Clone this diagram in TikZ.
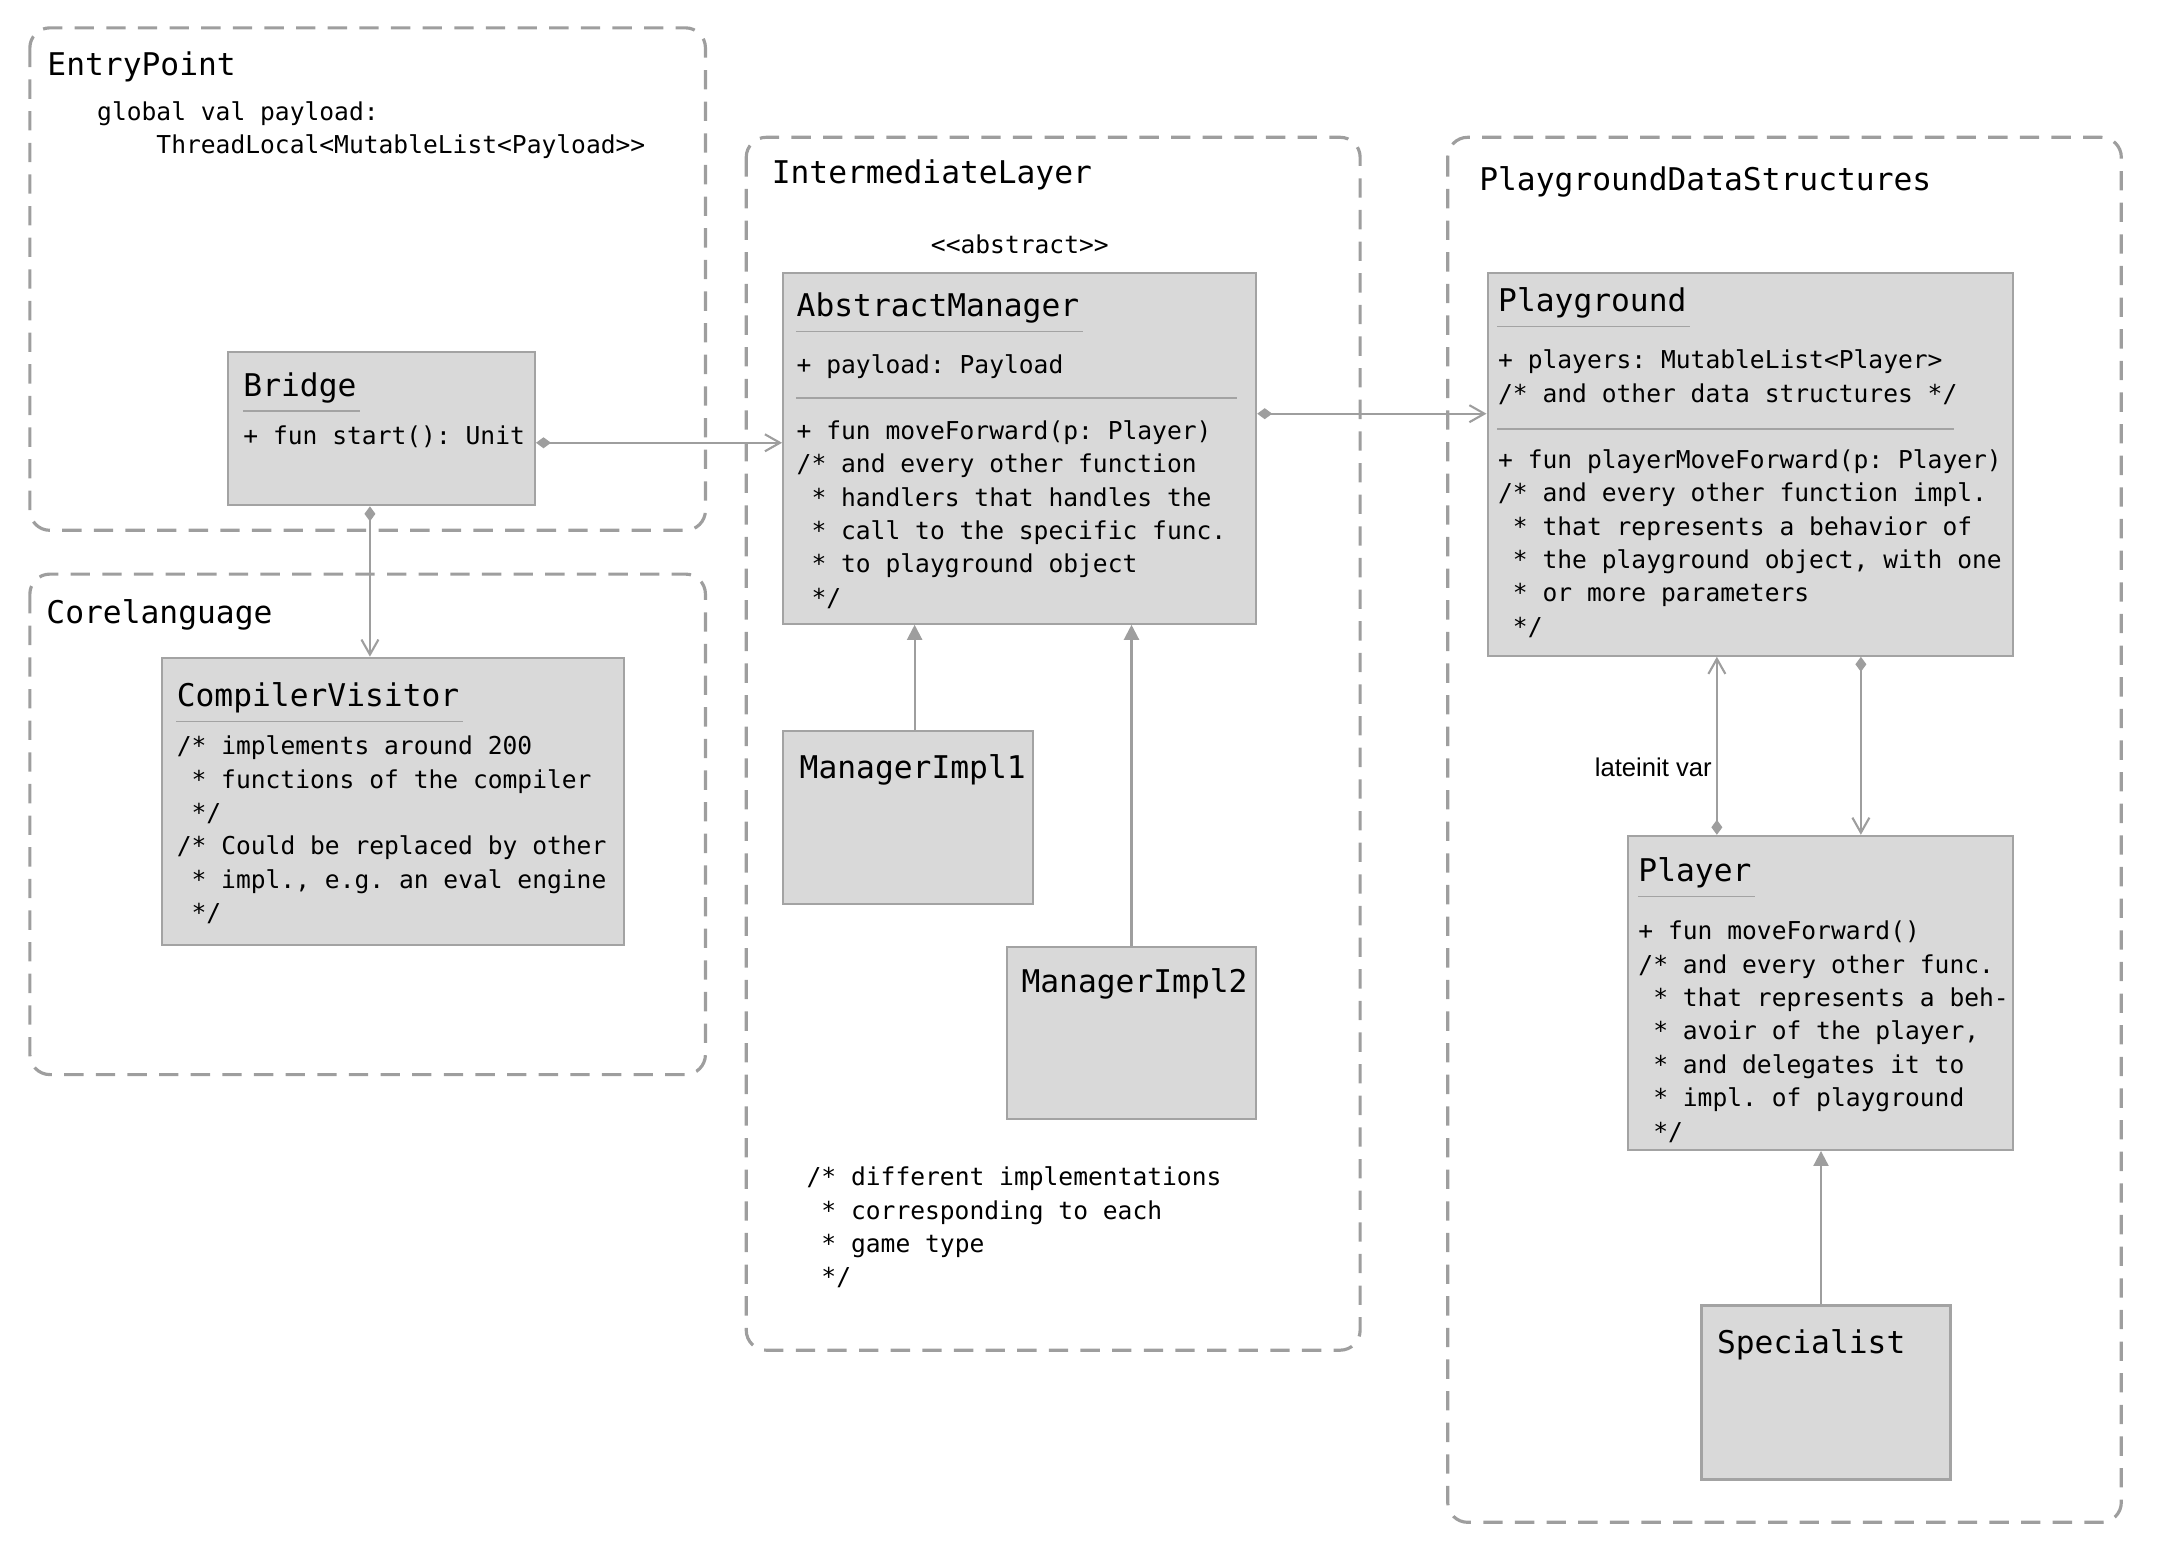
\documentclass[tikz,border=0pt]{standalone}
\usepackage{fontspec}
\setmonofont{DejaVu Sans Mono}
\newfontfamily\labelfont{Liberation Sans}
\usepackage{tikz}
\usetikzlibrary{arrows.meta, calc, positioning}
\definecolor{boxfill}{HTML}{D9D9D9}
\definecolor{boxline}{HTML}{A3A3A3}
\definecolor{frameline}{HTML}{9E9E9E}
\definecolor{linkline}{HTML}{9E9E9E}
\newcommand\pad{\hphantom{/}}
\tikzstyle{pkgframe} = [draw=frameline, line width=0.9pt, dash pattern=on 5.5pt off 3.5pt, rounded corners=2mm]
\tikzstyle{frametitle} = [anchor=base west, inner sep=0, font=\fontsize{8.9}{11}\ttfamily]
\tikzstyle{classbox} = [rectangle, draw=boxline, fill=boxfill, line width=0.6pt, inner sep=0, anchor=north west]
\tikzstyle{classname} = [anchor=base west, inner sep=0, font=\fontsize{8.9}{11}\ttfamily]
\tikzstyle{members} = [anchor=base west, inner sep=0, align=left, font=\fontsize{7}{9.5}\ttfamily, execute at begin node=\strut]
\tikzstyle{memberlist} = [members, anchor=north west]
\tikzstyle{divider} = [draw=boxline, line width=0.5pt]
\tikzstyle{comp} = [draw=linkline, line width=0.6pt, {Diamond[length=1.5mm,width=1.1mm]}-{Straight Barb[length=1.5mm,width=1.7mm]}]
\tikzstyle{inherit} = [draw=linkline, line width=0.6pt, -{Triangle[length=1.5mm,width=1.5mm]}]
\tikzstyle{linklabel} = [inner sep=0.4mm, font=\labelfont\fontsize{7.3}{9}\selectfont]
\begin{document}
\begin{tikzpicture}[x=0.00995cm, y=-0.00995cm]
		\useasboundingbox (0,0) rectangle (2170.9,1567.8);
		% packages
		\draw[pkgframe] (30,28) rectangle (709,533);
		\node[frametitle] (entryTitle) at (47,76) {EntryPoint};
		\node[memberlist] (entryNote) at (97,101) {global val payload:\\\hphantom{xxxx}ThreadLocal<MutableList<Payload>>};
		\draw[pkgframe] (30,577) rectangle (709,1080);
		\node[frametitle] (coreTitle) at (46,627) {Corelanguage};
		\draw[pkgframe] (750,138) rectangle (1367,1357);
		\node[frametitle] (layerTitle) at (775,184) {IntermediateLayer};
		\draw[pkgframe] (1455,138) rectangle (2132,1530);
		\node[frametitle] (dataTitle) at (1486,191) {PlaygroundDataStructures};
		% classes
		\node[classbox, minimum width=3.07cm, minimum height=1.53cm] (bridge) at (228,353) {};
		\node[classname] (bridgeName) at ([shift={(16,46)}]bridge.north west) {Bridge};
		\draw[divider] ([yshift=-1.4mm]bridgeName.base west) -- ([yshift=-1.4mm, xshift=0.3mm]bridgeName.base east);
		\node[members] (bridgeOps) at ([shift={(16,94)}]bridge.north west) {+ fun start(): Unit};

		\node[classbox, minimum width=4.62cm, minimum height=2.87cm] (compiler) at (162,660) {};
		\node[classname] (compilerName) at ([shift={(15,50)}]compiler.north west) {CompilerVisitor};
		\draw[divider] ([yshift=-1.5mm]compilerName.base west) -- ([yshift=-1.5mm, xshift=0.3mm]compilerName.base east);
		\node[memberlist] (compilerOps) at ([shift={(15,79)}]compiler.north west) {/* implements around 200\\\pad* functions of the compiler\\\pad*/\\/* Could be replaced by other\\\pad* impl., e.g. an eval engine\\\pad*/};

		\node[members, anchor=base] (managerStereo) at (1025,255) {<<abstract>>};
		\node[classbox, minimum width=4.73cm, minimum height=3.51cm] (manager) at (786,273) {};
		\node[classname] (managerName) at ([shift={(14,45)}]manager.north west) {AbstractManager};
		\draw[divider] ([yshift=-1.5mm]managerName.base west) -- ([yshift=-1.5mm, xshift=0.3mm]managerName.base east);
		\node[members] (managerAttr) at ([shift={(14,102)}]manager.north west) {+ payload: Payload};
		\draw[divider] ([shift={(14,127)}]manager.north west) -- ++(443,0);
		\node[memberlist] (managerOps) at ([shift={(14,149)}]manager.north west) {+ fun moveForward(p: Player)\\/* and every other function\\\pad* handlers that handles the\\\pad* call to the specific func.\\\pad* to playground object\\\pad*/};

		\node[classbox, minimum width=2.50cm, minimum height=1.73cm] (implOne) at (786,734) {};
		\node[classname] (implOneName) at ([shift={(17,48)}]implOne.north west) {ManagerImpl1};
		\node[classbox, minimum width=2.49cm, minimum height=1.72cm] (implTwo) at (1011,951) {};
		\node[classname] (implTwoName) at ([shift={(15,47)}]implTwo.north west) {ManagerImpl2};
		\node[memberlist] (implNote) at (810,1172) {/* different implementations\\\pad* corresponding to each\\\pad* game type\\\pad*/};

		\node[classbox, minimum width=5.25cm, minimum height=3.83cm] (playground) at (1494,273) {};
		\node[classname] (playgroundName) at ([shift={(11,40)}]playground.north west) {Playground};
		\draw[divider] ([yshift=-1.5mm]playgroundName.base west) -- ([yshift=-1.5mm, xshift=0.3mm]playgroundName.base east);
		\node[memberlist] (playgroundAttr) at ([shift={(11,78)}]playground.north west) {+ players: MutableList<Player>\\/* and other data structures */};
		\draw[divider] ([shift={(11,158)}]playground.north west) -- ++(459,0);
		\node[memberlist] (playgroundOps) at ([shift={(11,178)}]playground.north west) {+ fun playerMoveForward(p: Player)\\/* and every other function impl.\\\pad* that represents a behavior of\\\pad* the playground object, with one\\\pad* or more parameters\\\pad*/};

		\node[classbox, minimum width=3.85cm, minimum height=3.14cm] (player) at (1635,839) {};
		\node[classname] (playerName) at ([shift={(11,47)}]player.north west) {Player};
		\draw[divider] ([yshift=-1.5mm]playerName.base west) -- ([yshift=-1.5mm, xshift=0.3mm]playerName.base east);
		\node[memberlist] (playerOps) at ([shift={(11,86)}]player.north west) {+ fun moveForward()\\/* and every other func.\\\pad* that represents a beh-\\\pad* avoir of the player,\\\pad* and delegates it to\\\pad* impl. of playground\\\pad*/};

		\node[classbox, minimum width=2.49cm, minimum height=1.74cm] (specialist) at (1709,1311) {};
		\node[classname] (specialistName) at ([shift={(16,49)}]specialist.north west) {Specialist};
		% links
		\draw[comp] ([yshift=-1.4mm]bridge.east) -- ([yshift=-1.4mm]bridge.east -| manager.west);
		\draw[comp] ([xshift=-1.15mm]bridge.south) -- ([xshift=-1.15mm]bridge.south |- compiler.north);
		\draw[comp] ([yshift=3.45mm]manager.east) -- ([yshift=3.45mm]manager.east -| playground.west);
		\draw[inherit] ([xshift=0.65mm]implOne.north) -- ([xshift=0.65mm]implOne.north |- manager.south);
		\draw[inherit] (implTwo.north) -- (implTwo.north |- manager.south);
		\draw[comp] ([xshift=-10.35mm]player.north) -- node[linklabel, pos=0.38, left] {lateinit var} ([xshift=-10.35mm]player.north |- playground.south);
		\draw[comp] ([xshift=4.05mm]player.north |- playground.south) -- ([xshift=4.05mm]player.north);
		\draw[inherit] ([xshift=-0.5mm]specialist.north) -- ([xshift=-0.5mm]specialist.north |- player.south);
		\end{tikzpicture}
\end{document}
